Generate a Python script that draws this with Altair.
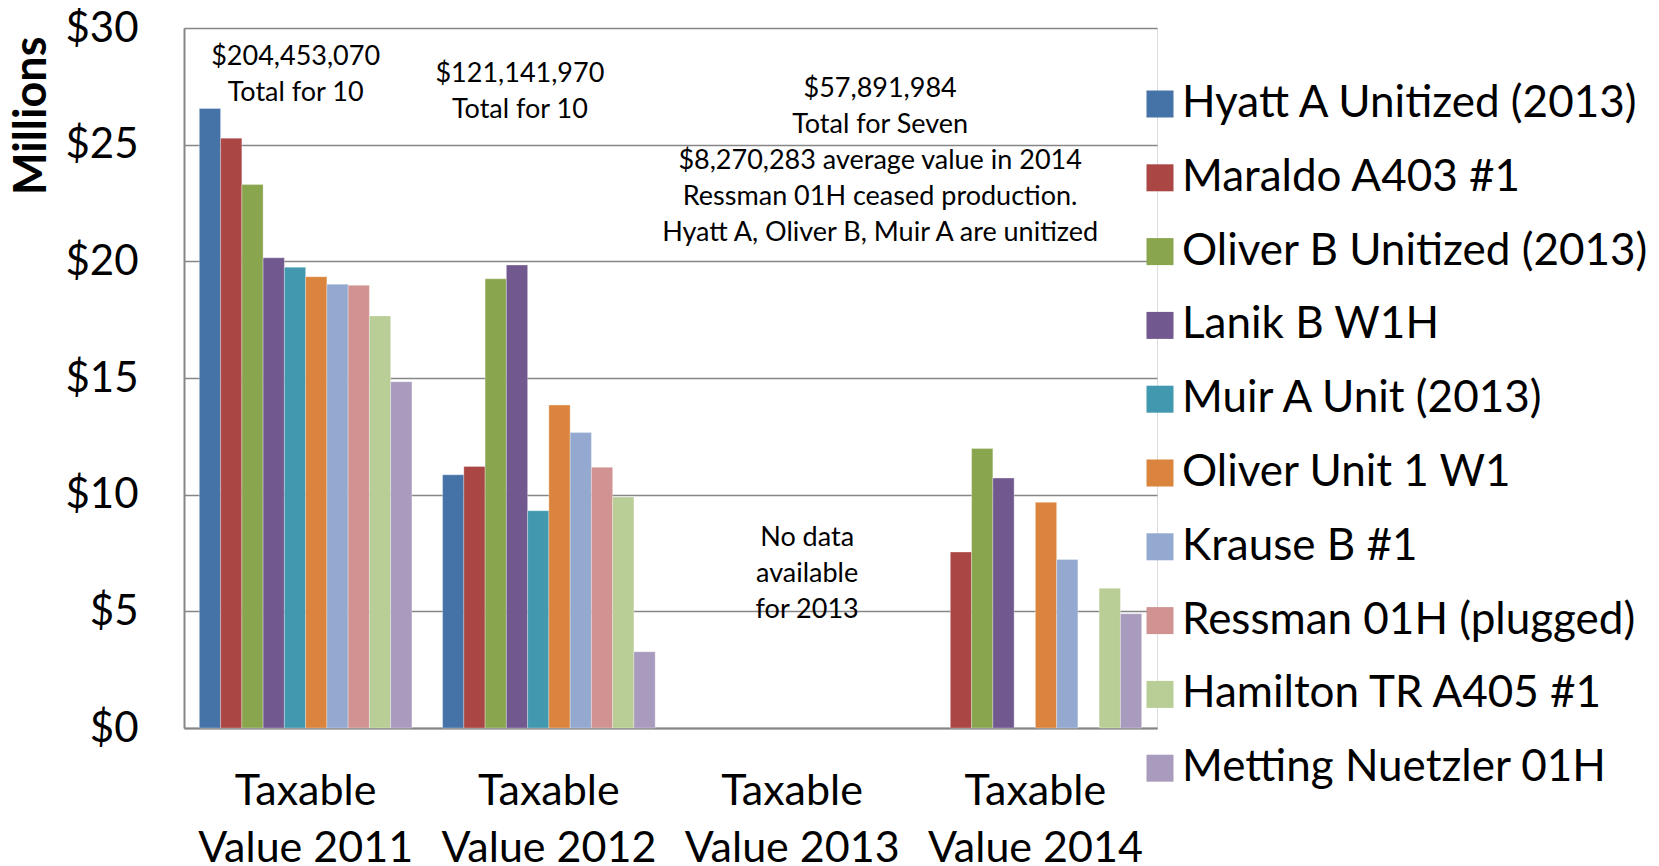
import altair as alt
import pandas as pd

categories = ["Taxable Value 2011", "Taxable Value 2012", "Taxable Value 2013", "Taxable Value 2014"]
wells = ["Hyatt A Unitized (2013)", "Maraldo A403 #1", "Oliver B Unitized (2013)", "Lanik B W1H",
         "Muir A Unit (2013)", "Oliver Unit 1 W1", "Krause B #1", "Ressman 01H (plugged)",
         "Hamilton TR A405 #1", "Metting Nuetzler 01H"]
colors = ["#4572A7", "#AA4643", "#89A54E", "#71588F", "#4198AF", "#DB843D", "#93A9CF", "#D19392",
          "#B9CD96", "#A99BBD"]

# values in millions of dollars (None = no bar)
v2011 = [26.55, 25.28, 23.29, 20.15, 19.75, 19.34, 19.02, 18.97, 17.66, 14.84]
v2012 = [10.85, 11.21, 19.25, 19.84, 9.31, 13.84, 12.66, 11.17, 9.90, 3.27]
v2013 = [None] * 10
v2014 = [None, 7.54, 11.98, 10.71, None, 9.67, 7.22, None, 5.99, 4.90]

rows = []
for cat, vals in zip(categories, [v2011, v2012, v2013, v2014]):
    for w, v in zip(wells, vals):
        if v is not None:
            rows.append({"cat": cat, "well": w, "value": v})
df = pd.DataFrame(rows)

# annotations: category, y value (millions), x shift, lines
ann_cats = ["Taxable Value 2011", "Taxable Value 2012", "Taxable Value 2013", "Taxable Value 2013"]
ann_y = [29.3, 28.6, 27.95, 8.68]
ann_dx = [-10, -29, 88, 15]
ann_text = [
    ["$204,453,070", "Total for 10"],
    ["$121,141,970", "Total for 10"],
    ["$57,891,984", "Total for Seven", "$8,270,283 average value in 2014",
     "Ressman 01H ceased production.", "Hyatt A, Oliver B, Muir A are unitized"],
    ["No data", "available", "for 2013"],
]

FONT = "Lato"

x_scale = alt.Scale(domain=categories, paddingInner=0.126, paddingOuter=0.063)
x_enc = alt.X("cat:N", scale=x_scale,
              axis=alt.Axis(title=None, labelExpr="['Taxable', replace(datum.label, 'Taxable ', '')]",
                            labelAngle=0, labelFontSize=43, labelFont=FONT, labelColor="#000000",
                            labelLineHeight=57, labelPadding=42, ticks=False, labelLimit=1000,
                            domainColor="#868686", domainWidth=2, grid=False, labelBaseline="top"))
y_scale = alt.Scale(domain=[0, 30], nice=False)

bars = alt.Chart(df).mark_bar(stroke="white", strokeWidth=0.6, strokeOpacity=0.5).encode(
    x=x_enc,
    xOffset=alt.XOffset("well:N", scale=alt.Scale(domain=wells, paddingInner=0, paddingOuter=0)),
    y=alt.Y("value:Q", scale=y_scale,
            axis=alt.Axis(title="Millions", titleFont=FONT, titleFontSize=45, titleFontWeight="bold",
                          titleColor="#000000", titleAngle=-90, titleAlign="right",
                          titleBaseline="middle", titleX=-153, titleY=8,
                          values=[0, 5, 10, 15, 20, 25, 30], labelExpr="'$' + datum.value",
                          labelFontSize=42, labelFont=FONT, labelColor="#000000", labelPadding=46,
                          ticks=False, domainColor="#868686", domainWidth=2,
                          gridColor="#868686", gridWidth=1.6)),
    color=alt.Color("well:N", scale=alt.Scale(domain=wells, range=colors),
                    legend=alt.Legend(title=None, orient="none", legendX=954, legendY=54,
                                      symbolType="square", symbolSize=729, symbolStrokeWidth=0,
                                      labelFontSize=44, labelFont=FONT, labelColor="#000000",
                                      labelOffset=0, rowPadding=29.8, labelLimit=700)),
)

layers = [bars]
for c, yv, dx, t in zip(ann_cats, ann_y, ann_dx, ann_text):
    adf = pd.DataFrame([{"cat": c, "y": yv, "t": t}])
    layers.append(
        alt.Chart(adf).mark_text(font=FONT, fontSize=27, color="#000000", dx=dx, baseline="top",
                                 lineHeight=36, align="center").encode(
            x=alt.X("cat:N", scale=x_scale),
            y=alt.Y("y:Q", scale=y_scale),
            text="t",
        )
    )

chart = alt.layer(*layers).properties(
    width=973, height=700,
    autosize=alt.AutoSizeParams(type="none"),
    padding={"left": 176, "top": 20, "right": 494, "bottom": 138},
).configure_view(stroke=None).configure(background="white")

chart.save("out.html", embed_options={"renderer": "svg", "actions": False})
